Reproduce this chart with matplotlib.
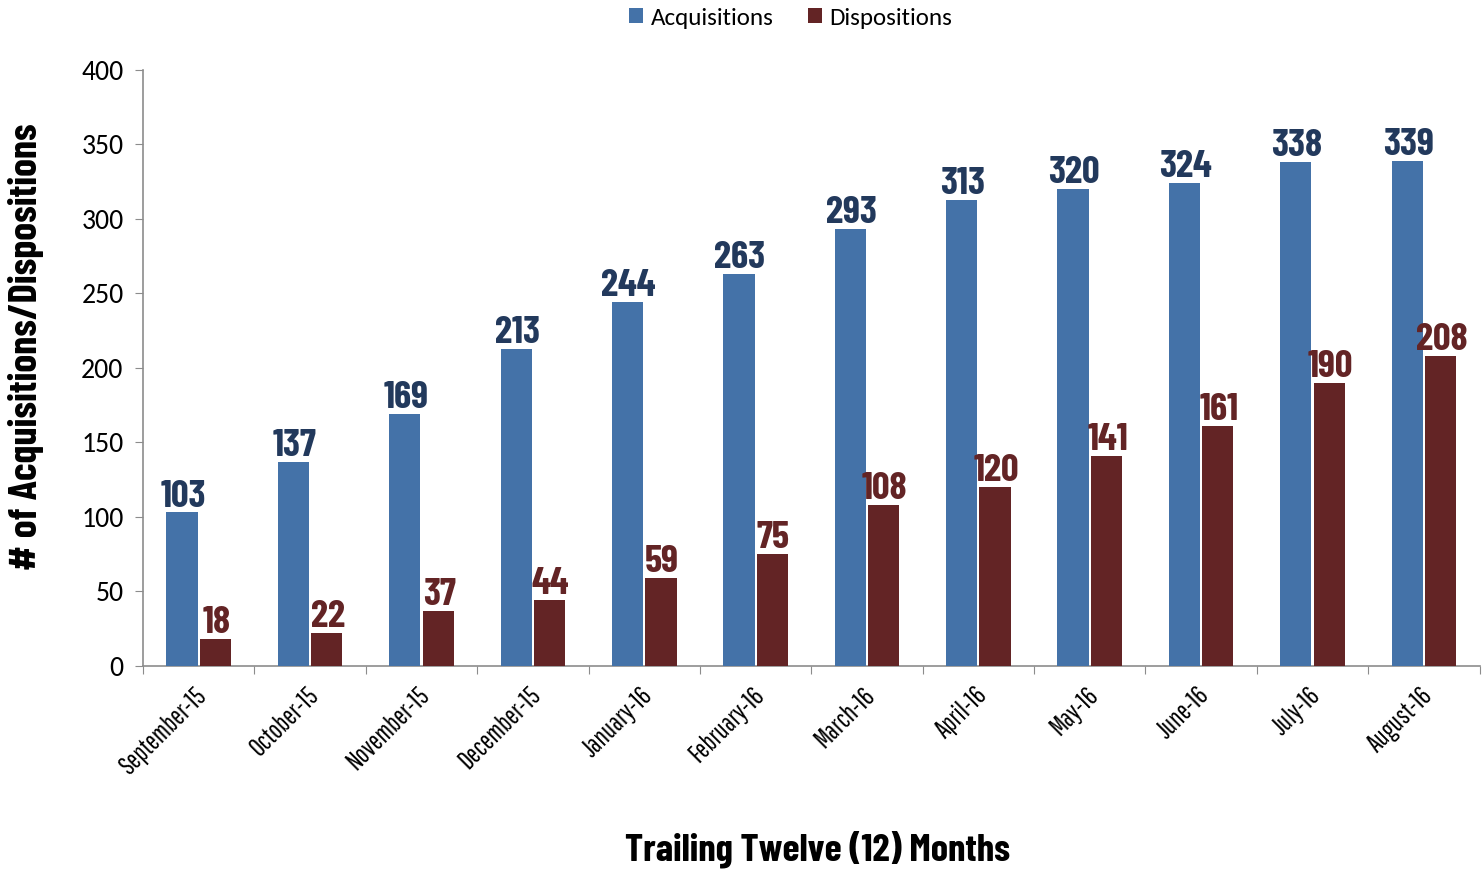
import numpy as np
from matplotlib import pyplot as plt

months = ["September-15", "October-15", "November-15", "December-15", "January-16",
          "February-16", "March-16", "April-16", "May-16", "June-16", "July-16", "August-16"]
acquisitions = [103, 137, 169, 213, 244, 263, 293, 313, 320, 324, 338, 339]
dispositions = [18, 22, 37, 44, 59, 75, 108, 120, 141, 161, 190, 208]

BLUE = "#4472a8"
RED = "#632425"
BLUE_TXT = "#22395c"
AXIS = "#8c8c8c"

# narrow faces standing in for Agency FB / Calibri
HEAVY = ["Barlow Condensed", "Asap Condensed", "DejaVu Sans"]
LIGHT = ["Pathway Gothic One", "Barlow Condensed", "DejaVu Sans"]
BODY = ["Carlito", "Open Sans", "DejaVu Sans"]
plt.rcParams["font.family"] = BODY

fig = plt.figure(figsize=(14.84, 8.69), dpi=100)
ax = fig.add_axes([0.0964, 0.2336, 0.9006, 0.686])

x = np.arange(len(months))
w = 0.28
ax.bar(x - 0.15, acquisitions, w, color=BLUE, label="Acquisitions", zorder=3)
ax.bar(x + 0.15, dispositions, w, color=RED, label="Dispositions", zorder=3)

for xi, a, d in zip(x, acquisitions, dispositions):
    ax.text(xi - 0.14, a + 4, str(a), ha="center", va="baseline", fontsize=28,
            fontweight="bold", family=HEAVY, color=BLUE_TXT)
    ax.text(xi + 0.16, d + 4, str(d), ha="center", va="baseline", fontsize=28,
            fontweight="bold", family=HEAVY, color=RED)

ax.set_xlim(-0.5, len(months) - 0.5)
ax.set_ylim(0, 400)
ax.set_yticks(range(0, 401, 50))
ax.tick_params(axis="y", labelsize=20, direction="out", length=6, color=AXIS, pad=8)
ax.set_xticks(np.arange(-0.5, len(months), 1.0))
ax.set_xticklabels([])
ax.tick_params(axis="x", direction="out", length=6, color=AXIS)
for xi, m in zip(x, months):
    ax.text(xi - 0.04, -11, m, rotation=45, ha="right", va="top", fontsize=19,
            family=LIGHT, rotation_mode="anchor")

for s in ["top", "right"]:
    ax.spines[s].set_visible(False)
for s in ["left", "bottom"]:
    ax.spines[s].set_color(AXIS)
    ax.spines[s].set_linewidth(1.2)

ax.set_ylabel("# of Acquisitions/Dispositions", fontsize=29, fontweight="bold", family=HEAVY)
ax.yaxis.set_label_coords(-0.074, 0.535)
fig.text(0.551, 0.027, "Trailing Twelve (12) Months", ha="center", va="center_baseline",
         fontsize=28, fontweight="bold", family=HEAVY)

fig.legend(loc="center", bbox_to_anchor=(0.533, 0.979), ncol=2, frameon=False,
           fontsize=18, handlelength=0.55, handleheight=0.55, handletextpad=0.3,
           columnspacing=1.4)

fig.savefig("out.png", dpi=100)
